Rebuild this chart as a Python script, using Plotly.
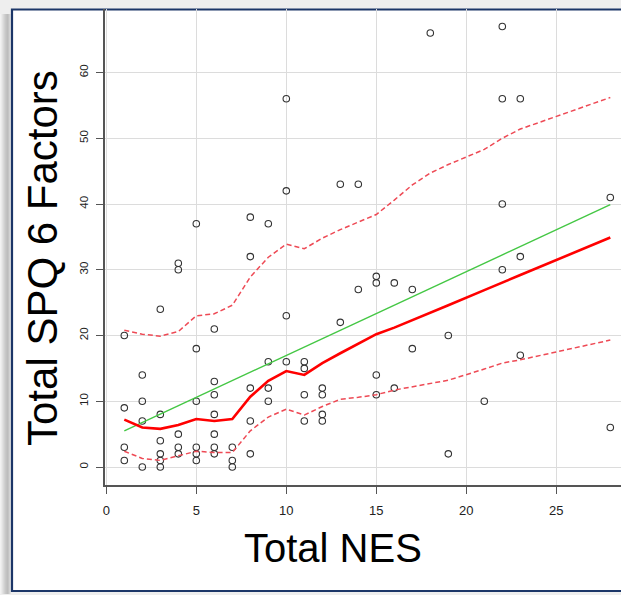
import plotly.graph_objects as go

# ---- data ----
nes = [1, 1, 1, 1,
       2, 2, 2, 2,
       3, 3, 3, 3, 3, 3,
       4, 4, 4, 4, 4,
       5, 5, 5, 5, 5, 5,
       6, 6, 6, 6, 6, 6, 6,
       7, 7, 7,
       8, 8, 8, 8, 8,
       9, 9, 9, 9,
       10, 10, 10, 10,
       11, 11, 11, 11,
       12, 12, 12, 12,
       13, 13,
       14, 14,
       15, 15, 15, 15,
       16, 16,
       17, 17,
       18,
       19, 19,
       21,
       22, 22, 22, 22,
       23, 23, 23,
       28, 28]
spq = [20, 9, 3, 1,
       14, 10, 7, 0,
       24, 8, 4, 2, 1, 0,
       31, 30, 5, 3, 2,
       37, 18, 10, 3, 2, 1,
       21, 13, 11, 8, 5, 3, 2,
       3, 1, 0,
       38, 32, 12, 7, 2,
       37, 16, 12, 10,
       56, 42, 23, 16,
       16, 15, 11, 7,
       12, 11, 8, 7,
       43, 22,
       43, 27,
       29, 28, 14, 11,
       28, 12,
       27, 18,
       66,
       20, 2,
       10,
       67, 56, 40, 30,
       56, 32, 17,
       41, 6]

# linear fit (green), endpoints
fit_x = [1, 28]
fit_y = [5.5, 39.9]

# smoother (red solid) and spread bands (red dashed)
smooth_x = [1, 2, 3, 4, 5, 6, 7, 8, 9, 10, 11, 12, 13, 14, 15, 16, 17, 18, 19, 21, 22, 23, 28]
smooth_y = [7.2, 6.0, 5.8, 6.4, 7.3, 7.0, 7.3, 10.7, 13.1, 14.6, 14.0, 15.8, 17.3, 18.8, 20.2,
            21.2, 22.3, 23.5, 24.6, 26.9, 28.0, 29.2, 34.9]
upper_y = [20.8, 20.2, 19.9, 20.6, 23.0, 23.3, 24.6, 28.9, 31.9, 33.9, 33.2, 34.8, 36.1, 37.3,
           38.4, 40.6, 42.9, 44.7, 46.0, 48.3, 50.0, 51.4, 56.2]
lower_y = [2.4, 1.3, 1.0, 1.7, 2.4, 2.2, 2.2, 5.5, 7.6, 8.8, 7.9, 9.2, 10.3, 10.6, 11.0, 11.7,
           12.2, 12.6, 13.2, 14.9, 15.8, 16.3, 19.3]

x_ticks = [0, 5, 10, 15, 20, 25]
y_ticks = [0, 10, 20, 30, 40, 50, 60]
x_title = "Total NES"
y_title = "Total SPQ 6 Factors"

W, H = 621, 595
L, R, T, B = 105, 0, 9, 110
PW, PH = W - L - R, H - T - B


def px(xp):
    return (xp - L) / PW


def py(yp):
    return (H - B - yp) / PH


FONT = "Liberation Sans, Arial, sans-serif"

fig = go.Figure()
fig.add_trace(go.Scatter(x=nes, y=spq, mode="markers",
                         marker=dict(symbol="circle-open", size=6.5, color="#333333",
                                     line=dict(width=1.1, color="#333333")),
                         hoverinfo="x+y", showlegend=False))
fig.add_trace(go.Scatter(x=fit_x, y=fit_y, mode="lines",
                         line=dict(color="#44c744", width=1.4), showlegend=False))
fig.add_trace(go.Scatter(x=smooth_x, y=upper_y, mode="lines",
                         line=dict(color="#ee4a55", width=1.5, dash="5px,3px"), showlegend=False))
fig.add_trace(go.Scatter(x=smooth_x, y=lower_y, mode="lines",
                         line=dict(color="#ee4a55", width=1.5, dash="5px,3px"), showlegend=False))
fig.add_trace(go.Scatter(x=smooth_x, y=smooth_y, mode="lines",
                         line=dict(color="#ff0000", width=2.6), showlegend=False))

shapes = []
# left shadow gradient
for i, c in enumerate(["#f2f2f2", "#ebebeb", "#e2e2e2", "#d9d9d9", "#d0d0d0", "#c8c8c8",
                       "#c2c2c2", "#bdbdbd", "#c4c4c4", "#d2d2d2", "#e0e0e0"]):
    shapes.append(dict(type="rect", xref="paper", yref="paper", layer="below",
                       x0=px(i), x1=px(i + 1), y0=py(594), y1=py(14),
                       fillcolor=c, line=dict(width=0)))
# white framed card with navy border
shapes.append(dict(type="rect", xref="paper", yref="paper", layer="below",
                   x0=px(12), x1=px(640), y0=py(591), y1=py(9.5),
                   fillcolor="white", line=dict(color="#1c3668", width=2.2)))

fig.update_layout(
    width=W, height=H,
    margin=dict(l=L, r=R, t=T, b=B, pad=0),
    paper_bgcolor="#eeeeee",
    plot_bgcolor="white",
    font=dict(family=FONT, color="#222222"),
    shapes=shapes,
    xaxis=dict(range=[(L - 106.3) / 18.0, (W - 106.3) / 18.0],
               tickvals=x_ticks, ticktext=[str(v) for v in x_ticks],
               showgrid=True, gridcolor="#dcdcdc", gridwidth=1, zeroline=False,
               showline=True, linecolor="#555555", linewidth=1.6,
               ticks="outside", ticklen=7, tickwidth=1, tickcolor="#555555",
               tickfont=dict(size=13, color="#222222"), ticklabelstandoff=6),
    yaxis=dict(range=[(467 - 485) / 6.575, (467 - 9) / 6.575],
               tickvals=y_ticks, ticktext=[str(v) for v in y_ticks],
               showgrid=True, gridcolor="#dcdcdc", gridwidth=1, zeroline=False,
               showline=True, linecolor="#555555", linewidth=1.6,
               ticks="outside", ticklen=7, tickwidth=1, tickcolor="#555555",
               tickangle=-90, tickfont=dict(size=11.5, color="#222222"),
               ticklabelstandoff=4),
    annotations=[
        dict(text=y_title, xref="paper", yref="paper", x=px(42), y=py(258),
             showarrow=False, textangle=-90, xanchor="center", yanchor="middle",
             font=dict(size=42, color="black", family=FONT)),
        dict(text=x_title, xref="paper", yref="paper", x=px(333), y=py(548),
             showarrow=False, xanchor="center", yanchor="middle",
             font=dict(size=40, color="black", family=FONT)),
    ],
)

fig.write_html("out.html")
